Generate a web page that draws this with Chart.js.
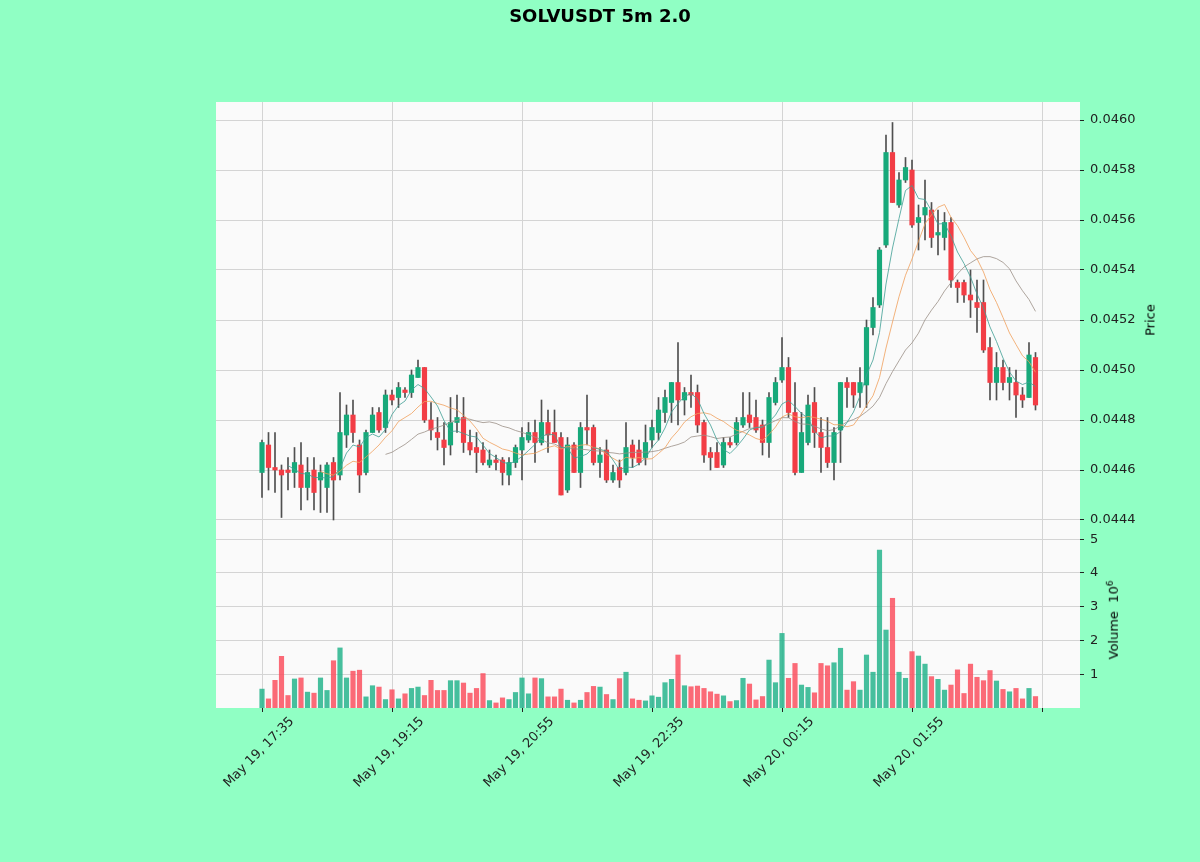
<!DOCTYPE html>
<html>
<head>
<meta charset="utf-8">
<title>SOLVUSDT 5m 2.0</title>
<script src="https://cdn.jsdelivr.net/npm/chart.js@4.4.0/dist/chart.umd.min.js"></script>
<style>
  body {
    margin: 0;
    width: 1200px;
    height: 862px;
    overflow: hidden;
    position: relative;
    background: #90ffc4;
    font-family: "DejaVu Sans", sans-serif;
  }
  canvas { position: absolute; left: 0; top: 0; }
  #priceChart { z-index: 2; }
  #volumeChart { z-index: 1; }
  #title {
    position: absolute;
    top: 5px;
    left: 0;
    width: 1200px;
    text-align: center;
    font-weight: bold;
    font-size: 18px;
    color: #000;
    z-index: 3;
  }
  .axis-title {
    position: absolute;
    font-size: 13px;
    color: #000;
    white-space: nowrap;
    transform: translate(-50%, -50%) rotate(-90deg);
    z-index: 3;
  }
</style>
</head>
<body>
<div id="title">SOLVUSDT 5m 2.0</div>
<div class="axis-title" style="left:1150px; top:320px;">Price</div>
<div class="axis-title" style="left:1113px; top:620px;">Volume &nbsp;10<sup style="font-size:9px">6</sup></div>
<canvas id="priceChart" width="1200" height="540"></canvas>
<canvas id="volumeChart" width="1200" height="862"></canvas>
<script>
// 5 minute candles, May 19 17:35 -> May 20 03:30
const opens = [
  0.04459, 0.04470, 0.04461, 0.04460, 0.04460, 0.04459, 0.04462, 0.04453, 0.04460, 0.04456,
  0.04453, 0.04463, 0.04458, 0.04474, 0.04482, 0.04470, 0.04459, 0.04475, 0.04483, 0.04477,
  0.04490, 0.04489, 0.04492, 0.04491, 0.04497, 0.04501, 0.04480, 0.04475, 0.04472, 0.04470,
  0.04479, 0.04481, 0.04471, 0.04469, 0.04468, 0.04462, 0.04464, 0.04464, 0.04458, 0.04463,
  0.04468, 0.04472, 0.04475, 0.04471, 0.04479, 0.04475, 0.04473, 0.04452, 0.04470, 0.04459,
  0.04477, 0.04477, 0.04463, 0.04468, 0.04456, 0.04461, 0.04459, 0.04470, 0.04468, 0.04465,
  0.04472, 0.04475, 0.04483, 0.04487, 0.04495, 0.04488, 0.04491, 0.04491, 0.04479, 0.04467,
  0.04467, 0.04462, 0.04471, 0.04471, 0.04478, 0.04482, 0.04481, 0.04478, 0.04471, 0.04487,
  0.04496, 0.04501, 0.04483, 0.04459, 0.04471, 0.04487, 0.04475, 0.04469, 0.04463, 0.04476,
  0.04495, 0.04495, 0.04491, 0.04494, 0.04517, 0.04526, 0.04550, 0.04587, 0.04566, 0.04576,
  0.04580, 0.04559, 0.04562, 0.04564, 0.04554, 0.04553, 0.04559, 0.04535, 0.04535, 0.04530,
  0.04527, 0.04527, 0.04509, 0.04495, 0.04501, 0.04495, 0.04495, 0.04490, 0.04489, 0.04505
];
const highs = [
  0.04472, 0.04475, 0.04475, 0.04462, 0.04465, 0.04469, 0.04471, 0.04465, 0.04465, 0.04462,
  0.04463, 0.04465, 0.04491, 0.04486, 0.04488, 0.04472, 0.04476, 0.04485, 0.04485, 0.04492,
  0.04492, 0.04495, 0.04493, 0.04500, 0.04504, 0.04501, 0.04487, 0.04481, 0.04479, 0.04489,
  0.04490, 0.04489, 0.04476, 0.04475, 0.04471, 0.04468, 0.04466, 0.04465, 0.04465, 0.04470,
  0.04477, 0.04479, 0.04480, 0.04488, 0.04484, 0.04484, 0.04475, 0.04473, 0.04471, 0.04479,
  0.04490, 0.04478, 0.04469, 0.04472, 0.04462, 0.04464, 0.04479, 0.04472, 0.04472, 0.04478,
  0.04480, 0.04489, 0.04492, 0.04495, 0.04511, 0.04493, 0.04498, 0.04494, 0.04480, 0.04469,
  0.04471, 0.04473, 0.04473, 0.04481, 0.04491, 0.04491, 0.04488, 0.04480, 0.04491, 0.04497,
  0.04513, 0.04505, 0.04495, 0.04483, 0.04490, 0.04493, 0.04481, 0.04481, 0.04477, 0.04495,
  0.04497, 0.04495, 0.04501, 0.04520, 0.04529, 0.04549, 0.04594, 0.04599, 0.04579, 0.04585,
  0.04584, 0.04566, 0.04576, 0.04567, 0.04564, 0.04563, 0.04561, 0.04536, 0.04536, 0.04540,
  0.04536, 0.04536, 0.04513, 0.04507, 0.04504, 0.04501, 0.04500, 0.04493, 0.04511, 0.04507
];
const lows = [
  0.04449, 0.04452, 0.04451, 0.04441, 0.04452, 0.04453, 0.04444, 0.04448, 0.04444, 0.04443,
  0.04443, 0.04440, 0.04456, 0.04469, 0.04471, 0.04451, 0.04458, 0.04475, 0.04475, 0.04475,
  0.04486, 0.04485, 0.04489, 0.04489, 0.04497, 0.04479, 0.04472, 0.04468, 0.04462, 0.04466,
  0.04475, 0.04467, 0.04466, 0.04459, 0.04462, 0.04461, 0.04460, 0.04454, 0.04454, 0.04461,
  0.04456, 0.04471, 0.04463, 0.04470, 0.04467, 0.04471, 0.04450, 0.04451, 0.04459, 0.04453,
  0.04470, 0.04462, 0.04457, 0.04455, 0.04455, 0.04453, 0.04458, 0.04461, 0.04462, 0.04462,
  0.04469, 0.04472, 0.04479, 0.04479, 0.04478, 0.04482, 0.04485, 0.04475, 0.04463, 0.04460,
  0.04461, 0.04461, 0.04469, 0.04470, 0.04477, 0.04477, 0.04475, 0.04466, 0.04465, 0.04486,
  0.04495, 0.04481, 0.04458, 0.04459, 0.04470, 0.04469, 0.04459, 0.04461, 0.04456, 0.04463,
  0.04485, 0.04485, 0.04485, 0.04485, 0.04514, 0.04525, 0.04549, 0.04567, 0.04565, 0.04575,
  0.04557, 0.04548, 0.04552, 0.04549, 0.04546, 0.04548, 0.04533, 0.04527, 0.04527, 0.04521,
  0.04515, 0.04507, 0.04488, 0.04488, 0.04492, 0.04488, 0.04481, 0.04485, 0.04489, 0.04484
];
const closes = [
  0.04471, 0.04461, 0.04460, 0.04458, 0.04459, 0.04463, 0.04453, 0.04459, 0.04451, 0.04459,
  0.04462, 0.04456, 0.04475, 0.04482, 0.04475, 0.04458, 0.04475, 0.04482, 0.04476, 0.04490,
  0.04488, 0.04493, 0.04491, 0.04498, 0.04501, 0.04480, 0.04476, 0.04473, 0.04469, 0.04479,
  0.04481, 0.04471, 0.04468, 0.04467, 0.04463, 0.04464, 0.04463, 0.04459, 0.04463, 0.04469,
  0.04473, 0.04475, 0.04471, 0.04479, 0.04474, 0.04471, 0.04450, 0.04470, 0.04459, 0.04477,
  0.04476, 0.04463, 0.04466, 0.04456, 0.04459, 0.04456, 0.04469, 0.04465, 0.04463, 0.04471,
  0.04477, 0.04484, 0.04489, 0.04495, 0.04488, 0.04491, 0.04490, 0.04478, 0.04466, 0.04465,
  0.04461, 0.04471, 0.04470, 0.04479, 0.04481, 0.04479, 0.04476, 0.04471, 0.04489, 0.04495,
  0.04501, 0.04483, 0.04459, 0.04475, 0.04486, 0.04475, 0.04469, 0.04463, 0.04475, 0.04495,
  0.04493, 0.04490, 0.04495, 0.04517, 0.04525, 0.04548, 0.04587, 0.04567, 0.04576, 0.04581,
  0.04558, 0.04561, 0.04565, 0.04553, 0.04555, 0.04559, 0.04536, 0.04533, 0.04530, 0.04528,
  0.04525, 0.04508, 0.04495, 0.04501, 0.04495, 0.04497, 0.04490, 0.04488, 0.04506, 0.04486
];
// volume in millions
const volumes = [
  0.56, 0.27, 0.82, 1.53, 0.37, 0.86, 0.89, 0.47, 0.44, 0.89,
  0.52, 1.40, 1.78, 0.89, 1.09, 1.12, 0.33, 0.66, 0.62, 0.25,
  0.54, 0.27, 0.42, 0.58, 0.62, 0.37, 0.82, 0.52, 0.52, 0.81,
  0.81, 0.74, 0.44, 0.58, 1.02, 0.22, 0.15, 0.30, 0.25, 0.46,
  0.89, 0.42, 0.89, 0.87, 0.33, 0.33, 0.56, 0.23, 0.15, 0.23,
  0.46, 0.64, 0.62, 0.40, 0.25, 0.87, 1.06, 0.27, 0.23, 0.21,
  0.36, 0.32, 0.75, 0.85, 1.57, 0.66, 0.63, 0.65, 0.58, 0.48,
  0.41, 0.36, 0.19, 0.22, 0.88, 0.71, 0.24, 0.34, 1.42, 0.75,
  2.21, 0.88, 1.32, 0.68, 0.61, 0.45, 1.32, 1.25, 1.34, 1.77,
  0.53, 0.78, 0.53, 1.57, 1.06, 4.68, 2.31, 3.25, 1.06, 0.88,
  1.67, 1.54, 1.30, 0.93, 0.85, 0.53, 0.68, 1.13, 0.43, 1.30,
  0.91, 0.81, 1.11, 0.80, 0.55, 0.48, 0.58, 0.27, 0.58, 0.34
];

const xTickPositions = [0, 20, 40, 60, 80, 100, 120];
const xTickLabels = [
  "May 19, 17:35", "May 19, 19:15", "May 19, 20:55",
  "May 19, 22:35", "May 20, 00:15", "May 20, 01:55"
];
const priceTicks = [0.0444, 0.0446, 0.0448, 0.0450, 0.0452, 0.0454, 0.0456, 0.0458, 0.0460];
const volumeTicks = [1, 2, 3, 4, 5];
const maPeriods = [5, 10, 20];
const maColors = ["#3f9e94", "#f0a05c", "#9a8f86"];

const upColor = "#17a97a";
const downColor = "#f23d45";
const upVolColor = "rgba(38, 180, 140, 0.85)";
const downVolColor = "rgba(250, 80, 95, 0.85)";
const wickColor = "#505050";
const gridColor = "#d4d4d4";

Chart.defaults.font.family = "DejaVu Sans";
Chart.defaults.color = "#222";

const xMin = -7.077;
const xMax = 125.846;

const isUp = (i) => closes[i] >= opens[i];

function movingAverage(period) {
  const out = [];
  for (let i = period - 1; i < closes.length; i++) {
    let sum = 0;
    for (let k = i - period + 1; k <= i; k++) sum += closes[k];
    out.push({ x: i, y: sum / period });
  }
  return out;
}

const panelBackground = {
  id: "panelBackground",
  beforeDraw(chart) {
    const { ctx, chartArea } = chart;
    ctx.save();
    ctx.fillStyle = "#fafafa";
    ctx.fillRect(chartArea.left, chartArea.top,
      chartArea.right - chartArea.left, chartArea.bottom - chartArea.top);
    ctx.restore();
  }
};

function xScale(showLabels) {
  return {
    type: "linear",
    min: xMin,
    max: xMax,
    offset: false,
    afterBuildTicks: (s) => {
      s.ticks = xTickPositions.map((v) => ({ value: v }));
    },
    ticks: {
      display: showLabels,
      autoSkip: false,
      minRotation: 45,
      maxRotation: 45,
      labelOffset: 30,
      padding: 2,
      font: { size: 13 },
      color: "#222",
      callback: (value) => {
        const idx = xTickPositions.indexOf(value);
        return idx >= 0 && idx < xTickLabels.length ? xTickLabels[idx] : "";
      }
    },
    grid: {
      offset: false,
      color: gridColor,
      drawTicks: showLabels,
      tickLength: 4,
      tickColor: "#222"
    },
    border: { display: false },
    afterFit: (s) => {
      s.height = showLabels ? 154 : 0;
    }
  };
}

const indices = closes.map((_, i) => i);

const priceChart = new Chart(document.getElementById("priceChart"), {
  type: "bar",
  data: {
    datasets: [
      {
        label: "wick",
        data: indices.map((i) => ({ x: i, y: [lows[i], highs[i]] })),
        backgroundColor: wickColor,
        barThickness: 1,
        grouped: false,
        order: 3
      },
      {
        label: "body",
        data: indices.map((i) => ({ x: i, y: [opens[i], closes[i]] })),
        backgroundColor: indices.map((i) => (isUp(i) ? upColor : downColor)),
        barThickness: 4.5,
        minBarLength: 1,
        grouped: false,
        order: 2
      },
      ...maPeriods.map((p, k) => ({
        type: "line",
        label: "MA" + p,
        data: movingAverage(p),
        borderColor: maColors[k],
        borderWidth: 0.8,
        pointRadius: 0,
        tension: 0,
        order: 1
      }))
    ]
  },
  options: {
    responsive: false,
    animation: false,
    layout: { padding: { left: 216, top: 102, right: 0, bottom: 18 } },
    plugins: { legend: { display: false }, tooltip: { enabled: false } },
    scales: {
      x: xScale(false),
      y: {
        position: "right",
        min: 0.044392,
        max: 0.046072,
        afterBuildTicks: (s) => {
          s.ticks = priceTicks.map((v) => ({ value: v }));
        },
        ticks: {
          padding: 6,
          font: { size: 13 },
          color: "#222",
          callback: (value) => value.toFixed(4)
        },
        grid: { color: gridColor, tickLength: 4, tickColor: "#222" },
        border: { display: false },
        afterFit: (s) => {
          s.width = 120;
        }
      }
    }
  },
  plugins: [panelBackground]
});

const volumeChart = new Chart(document.getElementById("volumeChart"), {
  type: "bar",
  data: {
    datasets: [
      {
        label: "Volume",
        data: indices.map((i) => ({ x: i, y: volumes[i] })),
        backgroundColor: indices.map((i) => (isUp(i) ? upVolColor : downVolColor)),
        barThickness: 4.5,
        grouped: false
      }
    ]
  },
  options: {
    responsive: false,
    animation: false,
    layout: { padding: { left: 216, top: 522, right: 0, bottom: 0 } },
    plugins: { legend: { display: false }, tooltip: { enabled: false } },
    scales: {
      x: xScale(true),
      y: {
        position: "right",
        min: 0,
        max: 5.51,
        afterBuildTicks: (s) => {
          s.ticks = volumeTicks.map((v) => ({ value: v }));
        },
        ticks: {
          padding: 6,
          font: { size: 13 },
          color: "#222",
          callback: (value) => String(value)
        },
        grid: { color: gridColor, tickLength: 4, tickColor: "#222" },
        border: { display: false },
        afterFit: (s) => {
          s.width = 120;
        }
      }
    }
  },
  plugins: [panelBackground]
});
</script>
</body>
</html>
